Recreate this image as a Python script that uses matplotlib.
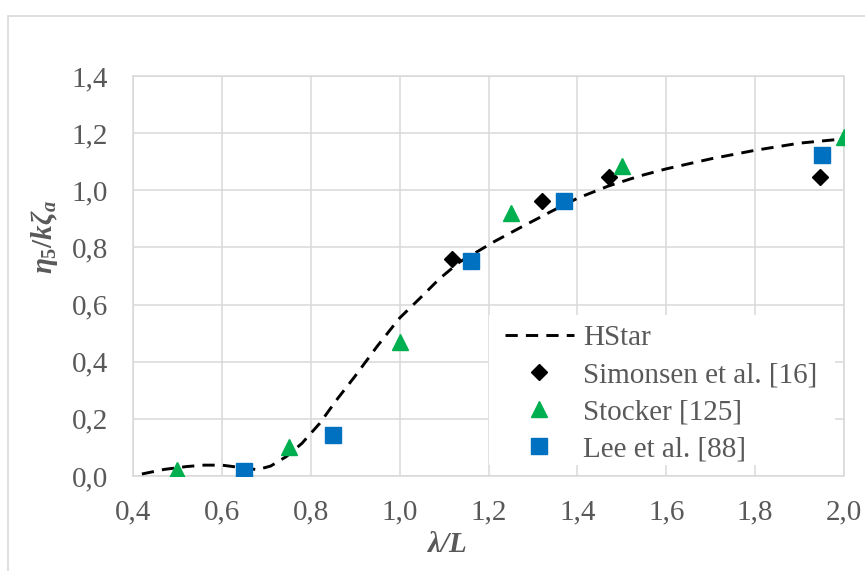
import matplotlib
matplotlib.use("Agg")
import matplotlib.pyplot as plt
from matplotlib.patches import Rectangle
from matplotlib.ticker import FuncFormatter, MultipleLocator

plt.rcParams['font.family'] = ['Liberation Serif', 'DejaVu Serif']
plt.rcParams['mathtext.fontset'] = 'custom'
plt.rcParams['mathtext.it'] = 'Liberation Serif:italic:bold'
plt.rcParams['mathtext.rm'] = 'Liberation Serif:bold'
plt.rcParams['mathtext.bf'] = 'Liberation Serif:bold'

# HStar curve
hstar_x = [0.42, 0.47, 0.52, 0.56, 0.60, 0.64, 0.68, 0.71, 0.745, 0.78, 0.82, 0.86, 0.90,
           0.95, 1.00, 1.045, 1.09, 1.135, 1.18, 1.21, 1.27, 1.34, 1.40, 1.47, 1.54, 1.60,
           1.70, 1.80, 1.90, 2.00]
hstar_y = [0.007, 0.023, 0.033, 0.038, 0.038, 0.030, 0.022, 0.035, 0.068, 0.114, 0.184, 0.27,
           0.35, 0.455, 0.553, 0.621, 0.691, 0.749, 0.79, 0.818, 0.868, 0.925, 0.972, 1.015,
           1.05, 1.075, 1.11, 1.14, 1.165, 1.18]

simonsen_x = [1.118, 1.32, 1.472, 1.945]
simonsen_y = [0.76, 0.963, 1.045, 1.045]

stocker_x = [0.5, 0.75, 1.0, 1.25, 1.5, 2.0]
stocker_y = [0.02, 0.10, 0.47, 0.92, 1.085, 1.185]

lee_x = [0.65, 0.85, 1.16, 1.37, 1.95]
lee_y = [0.018, 0.145, 0.753, 0.962, 1.125]

labels = ['HStar', 'Simonsen et al. [16]', 'Stocker [125]', 'Lee et al. [88]']

W, H = 865, 571
fig = plt.figure(figsize=(W / 100, H / 100), dpi=100)
ax = fig.add_axes([133 / W, 1 - 476 / H, (844 - 133) / W, (476 - 76) / H])

grid_c = '#d9d9d9'
text_c = '#595959'

ax.plot(hstar_x, hstar_y, color='black', lw=2.1, dashes=(4.2, 2.8), label=labels[0], zorder=3)
ax.plot(simonsen_x, simonsen_y, linestyle='none', marker='D', ms=7.8, color='black',
        label=labels[1], zorder=4)
ax.plot(stocker_x, stocker_y, linestyle='none', marker='^', ms=11, color='#00B050',
        label=labels[2], zorder=4)
ax.plot(lee_x, lee_y, linestyle='none', marker='s', ms=11, color='#0070C0',
        label=labels[3], zorder=4)

ax.set_xlim(0.4, 2.0)
ax.set_ylim(0.0, 1.4)
ax.xaxis.set_major_locator(MultipleLocator(0.2))
ax.yaxis.set_major_locator(MultipleLocator(0.2))
fmt = FuncFormatter(lambda v, p: f"{v:.1f}".replace('.', ','))
ax.xaxis.set_major_formatter(fmt)
ax.yaxis.set_major_formatter(fmt)
ax.grid(True, color=grid_c, lw=1.1, zorder=0)
ax.set_axisbelow(True)
for s in ax.spines.values():
    s.set_color(grid_c)
    s.set_linewidth(1.1)
ax.tick_params(axis='both', length=0, labelsize=21, labelcolor=text_c)
ax.tick_params(axis='x', pad=17)
ax.tick_params(axis='y', pad=18)

# white legend background (inset, grid stubs visible around it)
fig.patches.append(Rectangle((489 / W, 1 - 465 / H), (835 - 489) / W, (465 - 315) / H,
                             transform=fig.transFigure, facecolor='white', edgecolor='none',
                             zorder=1.5))
ax.set_zorder(1)
ax.patch.set_alpha(0)

leg = fig.legend(*ax.get_legend_handles_labels(), loc='upper left',
                 bbox_to_anchor=(505 / W, 1 - 325 / H), borderaxespad=0, borderpad=0,
                 fontsize=21, handlelength=2.35, handletextpad=0.33, labelspacing=0.36,
                 frameon=False)
leg.set_zorder(5)
for t in leg.get_texts():
    t.set_color(text_c)

fig.text(447 / W, 1 - 544 / H, 'λ/L', ha='center', va='center', fontsize=21,
         fontstyle='italic', fontweight='bold', color=text_c)
fig.text(45 / W, 1 - 237 / H, r'$\eta_5/k\zeta_a$', ha='center', va='center', fontsize=21,
         rotation=90, color=text_c)

fig.patches.append(Rectangle((8 / W, -0.1), 1.2, 1 - 16 / H + 0.1, transform=fig.transFigure,
                             fill=False, edgecolor=grid_c, lw=1.2, zorder=0))

fig.savefig('out.png', dpi=100)
